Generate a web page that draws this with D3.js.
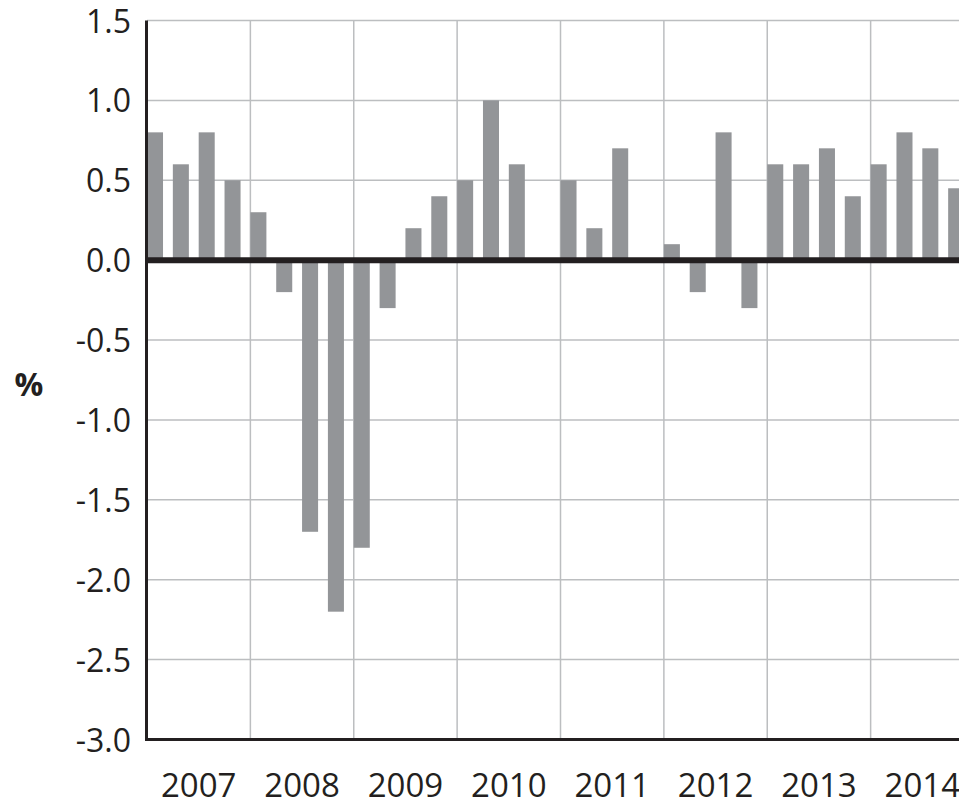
<!DOCTYPE html>
<html>
<head>
<meta charset="utf-8">
<script src="https://cdn.jsdelivr.net/npm/d3@7"></script>
<style>
  body { margin: 0; background: #fff; }
  svg { display: block; }
</style>
</head>
<body>
<div id="chart"></div>
<script>
// Quarterly change, 2007 Q1 .. 2014 Q4
const years = [2007, 2008, 2009, 2010, 2011, 2012, 2013, 2014];
const quarterValues = [
  0.8, 0.6, 0.8, 0.5,     // 2007
  0.3, -0.2, -1.7, -2.2,  // 2008
  -1.8, -0.3, 0.2, 0.4,   // 2009
  0.5, 1.0, 0.6, 0.0,     // 2010
  0.5, 0.2, 0.7, 0.0,     // 2011
  0.1, -0.2, 0.8, -0.3,   // 2012
  0.6, 0.6, 0.7, 0.4,     // 2013
  0.6, 0.8, 0.7, 0.45     // 2014
];
const yTicks = [1.5, 1.0, 0.5, 0.0, -0.5, -1.0, -1.5, -2.0, -2.5, -3.0];

const width = 959, height = 807;
const plotLeft = 147, plotRight = 974, plotTop = 20.5, plotBottom = 739.5;
const font = "'Open Sans', sans-serif";

const data = quarterValues.map((v, i) => ({
  key: years[Math.floor(i / 4)] + "Q" + (i % 4 + 1),
  value: v
}));

const svg = d3.select("#chart").append("svg")
  .attr("width", width)
  .attr("height", height);

const x = d3.scaleBand()
  .domain(data.map(d => d.key))
  .range([plotLeft, plotRight])
  .paddingInner(0.38)
  .paddingOuter(0.19)
  .align(0);

const xYear = d3.scaleLinear()
  .domain([years[0], years[years.length - 1] + 1])
  .range([plotLeft, plotRight]);

const y = d3.scaleLinear()
  .domain([-3, 1.5])
  .range([plotBottom, plotTop]);

// horizontal grid
svg.append("g")
  .selectAll("line")
  .data(yTicks.filter(t => t !== -3 && t !== 0))
  .enter().append("line")
  .attr("x1", plotLeft).attr("x2", width)
  .attr("y1", d => y(d)).attr("y2", d => y(d))
  .attr("stroke", "#bcbec0")
  .attr("stroke-width", 1.5);

// vertical grid (year boundaries)
svg.append("g")
  .selectAll("line")
  .data(years.slice(1))
  .enter().append("line")
  .attr("x1", d => xYear(d)).attr("x2", d => xYear(d))
  .attr("y1", plotTop).attr("y2", plotBottom)
  .attr("stroke", "#bcbec0")
  .attr("stroke-width", 1.5);

// bars
svg.append("g")
  .selectAll("rect")
  .data(data.filter(d => d.value !== 0))
  .enter().append("rect")
  .attr("x", d => x(d.key))
  .attr("width", x.bandwidth())
  .attr("y", d => y(Math.max(0, d.value)))
  .attr("height", d => Math.abs(y(d.value) - y(0)))
  .attr("fill", "#939598");

// zero line
svg.append("line")
  .attr("x1", plotLeft).attr("x2", width)
  .attr("y1", y(0)).attr("y2", y(0))
  .attr("stroke", "#231f20")
  .attr("stroke-width", 6);

// axes lines
svg.append("path")
  .attr("d", `M${plotLeft - 0.5},${plotTop} V${plotBottom} H${width}`)
  .attr("fill", "none")
  .attr("stroke", "#231f20")
  .attr("stroke-width", 3);

// y tick labels (plain hyphen for negatives, like the original)
const yAxis = d3.axisLeft(y)
  .tickValues(yTicks)
  .tickFormat(d => d.toFixed(1))
  .tickSize(0)
  .tickPadding(0);

svg.append("g")
  .attr("transform", `translate(${plotLeft - 16},0)`)
  .call(yAxis)
  .call(g => g.select(".domain").remove())
  .selectAll("text")
  .attr("dy", "0.36em")
  .attr("fill", "#231f20")
  .style("font-family", font)
  .style("font-size", "32px");

// year labels
svg.append("g")
  .selectAll("text")
  .data(years)
  .enter().append("text")
  .attr("x", d => xYear(d + 0.5))
  .attr("y", 797)
  .attr("text-anchor", "middle")
  .attr("fill", "#231f20")
  .style("font-family", font)
  .style("font-size", "33px")
  .text(d => d);

// unit label
svg.append("text")
  .attr("x", 29)
  .attr("y", 396)
  .attr("text-anchor", "middle")
  .attr("fill", "#231f20")
  .style("font-family", font)
  .style("font-weight", "bold")
  .style("font-size", "32px")
  .text("%");
</script>
</body>
</html>
